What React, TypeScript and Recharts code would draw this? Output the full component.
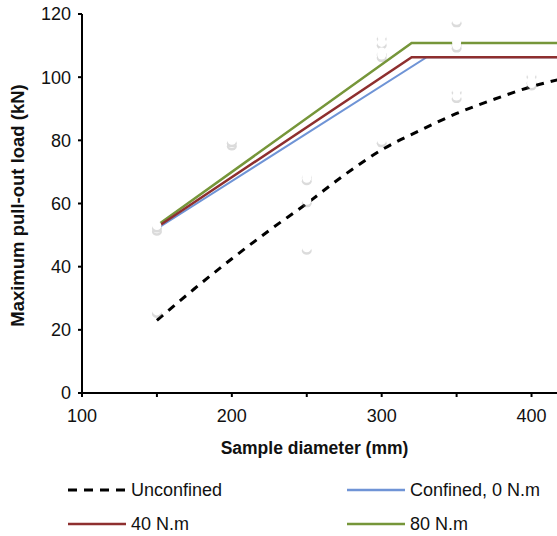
import React from "react";
import {
  ComposedChart,
  Line,
  Scatter,
  XAxis,
  YAxis,
  Label,
} from "recharts";

// measured points (white markers, barely visible in the source)
const testDiameters = [150, 150, 150, 200, 200, 250, 250, 250, 250, 300, 300, 300, 300, 300, 350, 350, 350, 350, 350, 400, 400, 400];
const testLoads = [26, 52, 53, 79, 80, 69, 68, 61, 46, 113, 111, 108, 107, 80, 118, 111, 110, 96, 94, 101, 99, 98];

// fitted lines
const unconfinedX = [150, 175, 200, 225, 250, 275, 300, 325, 350, 375, 400, 425];
const unconfinedY = [23, 33, 42.5, 51.5, 60, 69, 77, 83, 88.5, 93, 97, 100];

const confined0X = [150, 330, 430];
const confined0Y = [52, 106.3, 106.3];

const nm40X = [150, 320, 430];
const nm40Y = [52.5, 106.3, 106.3];

const nm80X = [150, 320, 430];
const nm80Y = [53, 110.8, 110.8];

const xTicks = [100, 150, 200, 250, 300, 350, 400];
const yTicks = [0, 20, 40, 60, 80, 100, 120];

const BLUE = "#6f94d6";
const RED = "#8e2f2f";
const GREEN = "#76963a";

const toPts = (xs: number[], ys: number[]) => xs.map((x, i) => ({ x, y: ys[i] }));

const unconfined = toPts(unconfinedX, unconfinedY);
const confined0 = toPts(confined0X, confined0Y);
const nm40 = toPts(nm40X, nm40Y);
const nm80 = toPts(nm80X, nm80Y);
const tests = toPts(testDiameters, testLoads);

const Marker = (props: any) => {
  const { cx, cy } = props;
  if (cx == null || cy == null) return null;
  return (
    <g>
      <ellipse cx={cx} cy={cy + 3} rx={5} ry={4} fill="#888" opacity={0.3} />
      <circle cx={cx} cy={cy} r={4.5} fill="#fff" />
    </g>
  );
};

const font = "'Liberation Sans', Arial, sans-serif";

const LegendRow = ({ x, y, color, dashed, text }: any) => (
  <g>
    <line
      x1={x}
      x2={x + 58}
      y1={y}
      y2={y}
      stroke={color}
      strokeWidth={dashed ? 3 : 2.5}
      strokeDasharray={dashed ? "9 7" : undefined}
    />
    <text x={x + 63} y={y + 6} fontSize={18} fontFamily={font} fill="#111">
      {text}
    </text>
  </g>
);

export default function App() {
  return (
    <div style={{ position: "absolute", left: 0, top: 0, width: 557, height: 536, overflow: "hidden", background: "#fff" }}>
      <ComposedChart
        width={557}
        height={536}
        margin={{ top: 14, right: 0, bottom: 73, left: 0 }}
      >
        <XAxis
          type="number"
          dataKey="x"
          domain={[100, 417]}
          allowDataOverflow
          ticks={xTicks}
          interval={0}
          tickFormatter={(v: number) => (v % 100 === 0 ? String(v) : "")}
          height={70}
          stroke="#000"
          strokeWidth={2}
          tickSize={4}
          tickMargin={12}
          tick={{ fontSize: 18, fill: "#111", fontFamily: font }}
        >
          <Label
            value="Sample diameter (mm)"
            position="insideBottom"
            offset={9}
            dx={-5}
            style={{ fontSize: 17.5, fontWeight: "bold", fill: "#111", fontFamily: font }}
          />
        </XAxis>
        <YAxis
          type="number"
          dataKey="y"
          domain={[0, 120]}
          allowDataOverflow
          ticks={yTicks}
          interval={0}
          width={82}
          stroke="#000"
          strokeWidth={2}
          tickSize={4}
          tickMargin={7}
          tick={{ fontSize: 18, fill: "#111", fontFamily: font }}
        >
          <Label
            value="Maximum pull-out load (kN)"
            angle={-90}
            position="insideLeft"
            offset={17}
            dy={2}
            style={{ textAnchor: "middle", fontSize: 18.5, fontWeight: "bold", fill: "#111", fontFamily: font }}
          />
        </YAxis>
        <Scatter data={tests} shape={<Marker />} isAnimationActive={false} legendType="none" />
        <Line
          data={unconfined}
          dataKey="y"
          type="monotone"
          stroke="#000"
          strokeWidth={3}
          strokeDasharray="8 7"
          dot={false}
          isAnimationActive={false}
        />
        <Line data={confined0} dataKey="y" type="linear" stroke={BLUE} strokeWidth={2} dot={false} isAnimationActive={false} />
        <Line data={nm80} dataKey="y" type="linear" stroke={GREEN} strokeWidth={2.5} dot={false} isAnimationActive={false} />
        <Line data={nm40} dataKey="y" type="linear" stroke={RED} strokeWidth={2.5} dot={false} isAnimationActive={false} />
      </ComposedChart>
      <svg width={557} height={70} style={{ position: "absolute", left: 0, top: 466 }}>
        <LegendRow x={68} y={24} color="#000" dashed text="Unconfined" />
        <LegendRow x={347} y={24} color={BLUE} text="Confined, 0 N.m" />
        <LegendRow x={68} y={58} color={RED} text="40 N.m" />
        <LegendRow x={347} y={58} color={GREEN} text="80 N.m" />
      </svg>
    </div>
  );
}
